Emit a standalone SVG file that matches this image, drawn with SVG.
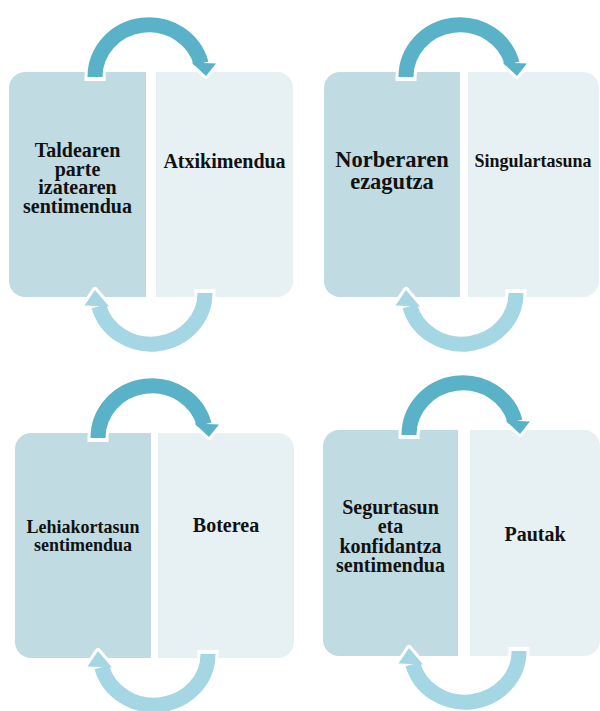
<svg xmlns="http://www.w3.org/2000/svg" xmlns:xlink="http://www.w3.org/1999/xlink" width="600" height="711" viewBox="0 0 600 711">
<style>
.bl{fill:#C1DBE3}
.br{fill:#E7F0F3}
.t{font-family:"Liberation Serif","Times New Roman",serif;font-weight:bold;fill:#111;text-anchor:middle}
.w{fill:none;stroke:#fff;stroke-width:21;stroke-linejoin:round}
.wh{stroke:#fff;stroke-width:6;stroke-linejoin:round}
.a1{fill:none;stroke:#5AB2C8;stroke-width:15}
.a2{fill:none;stroke:#A5D6E3;stroke-width:15}
</style>
<defs>
<g id="topArrow">
<path class="w" d="M95,81 L95,77 A54,52 0 0 1 201.2,63.5"/>
<polygon class="wh" fill="#fff" points="191.5,62.5 216,63.5 206,76"/>
<path class="a1" d="M95,77 A54,52 0 0 1 201.2,63.5"/>
<polygon fill="#5AB2C8" points="191.5,62.5 216,63.5 206,76"/>
</g>
<g id="botArrow">
<path class="w" d="M205,289 L205,293 A54,51 0 0 1 98.8,306.2"/>
<polygon class="wh" fill="#fff" points="84.5,305.5 109,306.5 95,290"/>
<path class="a2" d="M205,293 A54,51 0 0 1 98.8,306.2"/>
<polygon fill="#A5D6E3" points="84.5,305.5 109,306.5 95,290"/>
</g>
</defs>
<rect width="600" height="711" fill="#fff"/>

<g id="node-taldearen">
<path class="bl" d="M146,72 H25 A16,16 0 0 0 9,88 V281 A16,16 0 0 0 25,297 H146 Z"/>
<text class="t" font-size="20" x="77.5"><tspan x="77.5" y="157">Taldearen</tspan><tspan x="77.5" y="175.5">parte</tspan><tspan x="77.5" y="194">izatearen</tspan><tspan x="77.5" y="212.5">sentimendua</tspan></text>
</g>
<g id="node-atxikimendua">
<path class="br" d="M156,72 H277 A16,16 0 0 1 293,88 V281 A16,16 0 0 1 277,297 H156 Z"/>
<text class="t" font-size="20" x="224.5" y="168">Atxikimendua</text>
</g>

<g id="node-norberaren">
<path class="bl" d="M460,72 H340 A16,16 0 0 0 324,88 V281 A16,16 0 0 0 340,297 H460 Z"/>
<text class="t" font-size="22.5"><tspan x="392" y="167">Norberaren</tspan><tspan x="392" y="189">ezagutza</tspan></text>
</g>
<g id="node-singulartasuna">
<path class="br" d="M468,72 H583 A16,16 0 0 1 599,88 V281 A16,16 0 0 1 583,297 H468 Z"/>
<text class="t" font-size="18" x="533" y="167">Singulartasuna</text>
</g>

<g id="node-lehiakortasun">
<path class="bl" d="M151,433 H31 A16,16 0 0 0 15,449 V642 A16,16 0 0 0 31,658 H151 Z"/>
<text class="t" font-size="18"><tspan x="83" y="532.5">Lehiakortasun</tspan><tspan x="83" y="551">sentimendua</tspan></text>
</g>
<g id="node-boterea">
<path class="br" d="M158,433 H278 A16,16 0 0 1 294,449 V642 A16,16 0 0 1 278,658 H158 Z"/>
<text class="t" font-size="20" x="226" y="532">Boterea</text>
</g>

<g id="node-segurtasun">
<path class="bl" d="M458,430 H339 A16,16 0 0 0 323,446 V640 A16,16 0 0 0 339,656 H458 Z"/>
<text class="t" font-size="20"><tspan x="390.5" y="514">Segurtasun</tspan><tspan x="390.5" y="533">eta</tspan><tspan x="390.5" y="552.5">konfidantza</tspan><tspan x="390.5" y="572">sentimendua</tspan></text>
</g>
<g id="node-pautak">
<path class="br" d="M470,430 H584 A16,16 0 0 1 600,446 V640 A16,16 0 0 1 584,656 H470 Z"/>
<text class="t" font-size="20" x="535" y="541">Pautak</text>
</g>

<g id="connectors">
<use xlink:href="#topArrow" href="#topArrow"/>
<use xlink:href="#botArrow" href="#botArrow"/>
<use xlink:href="#topArrow" href="#topArrow" transform="translate(311,0)"/>
<use xlink:href="#botArrow" href="#botArrow" transform="translate(311,0)"/>
<use xlink:href="#topArrow" href="#topArrow" transform="translate(3,361)"/>
<use xlink:href="#botArrow" href="#botArrow" transform="translate(3,361)"/>
<use xlink:href="#topArrow" href="#topArrow" transform="translate(314,358)"/>
<use xlink:href="#botArrow" href="#botArrow" transform="translate(314,358)"/>
</g>
</svg>
